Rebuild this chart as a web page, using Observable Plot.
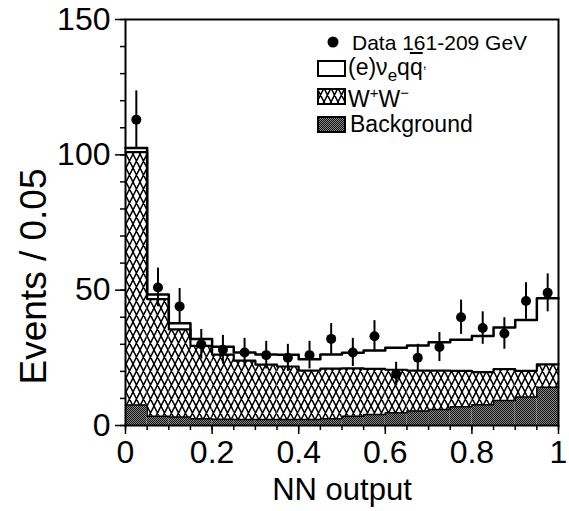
<!DOCTYPE html>
<html><head><meta charset="utf-8">
<script src="https://cdn.jsdelivr.net/npm/d3@7"></script>
<script src="https://cdn.jsdelivr.net/npm/@observablehq/plot@0.6"></script>
<style>
body{margin:0;background:#fff;}
#wrap{position:relative;width:569px;height:511px;font-family:"Liberation Sans",Arial,Helvetica,sans-serif;color:#000;}
.leg{position:absolute;font-size:23px;line-height:1;white-space:nowrap;}
.sw{position:absolute;}
</style></head><body>
<div id="wrap"></div>
<script>
// ---- data ----
const binLow  = [0,0.05,0.10,0.15,0.20,0.25,0.30,0.35,0.40,0.45,0.50,0.55,0.60,0.65,0.70,0.75,0.80,0.85,0.90,0.95];
const binHigh = [0.05,0.10,0.15,0.20,0.25,0.30,0.35,0.40,0.45,0.50,0.55,0.60,0.65,0.70,0.75,0.80,0.85,0.90,0.95,1.00];
const dataCounts = [113,51,44,30,28,27,26,25,26,32,27,33,19,25,29,40,36,34,46,49];
const background = [7.6,3.4,3.1,2.5,2.3,2.2,2.2,2.2,2.2,2.5,3.4,4.1,4.7,5.4,5.9,6.9,7.7,9.2,10.5,14.1];
const wwValues   = [93.4,43.3,32.4,26.9,23.9,21.8,20.3,19.6,18.1,18.5,17.7,16.8,15.9,14.9,14.4,13.3,12.0,11.6,9.7,8.5];
const signal     = [1.5,1.7,2.3,2.6,2.9,3.0,3.7,4.3,4.2,5.2,5.8,6.8,8.1,9.3,10.5,11.5,13.4,15.4,18.8,24.4];
const xTicks = [0,0.2,0.4,0.6,0.8,1];
const xTickLabels = ["0","0.2","0.4","0.6","0.8","1"];
const yTicks = [0,50,100,150];
const yTickLabels = ["0","50","100","150"];
const xMinor = d3.range(0, 1.0001, 0.05);
const yMinor = d3.range(0, 151, 10);

// ---- derived table ----
const rows = binLow.map((lo, i) => {
  const bg = background[i];
  const top = bg + wwValues[i];
  const tot = top + signal[i];
  return {lo, hi: binHigh[i], mid: (lo + binHigh[i]) / 2, bg, top, tot, n: dataCounts[i], err: Math.sqrt(dataCounts[i])};
});
const last = rows[rows.length - 1];
const stepPts = rows.map(r => ({x: r.lo, bg: r.bg, top: r.top, tot: r.tot}))
  .concat([{x: last.hi, bg: last.bg, top: last.top, tot: last.tot}]);

const FS = 32;
const plot = Plot.plot({
  width: 569, height: 511,
  marginLeft: 125, marginRight: 11, marginTop: 19, marginBottom: 86,
  style: {fontFamily: '"Liberation Sans", Arial, Helvetica, sans-serif', background: "#fff", color: "#000"},
  x: {domain: [0, 1], label: null},
  y: {domain: [0, 150], label: null},
  marks: [
    Plot.rect(rows, {x1: "lo", x2: "hi", y1: 0, y2: "bg", fill: "url(#bgdots)"}),
    Plot.rect(rows, {x1: "lo", x2: "hi", y1: "bg", y2: "top", fill: "url(#hatch)"}),
    Plot.line(stepPts, {x: "x", y: "bg", curve: "step-after", stroke: "#000", strokeWidth: 1.5}),
    Plot.line(stepPts, {x: "x", y: "top", curve: "step-after", stroke: "#000", strokeWidth: 2.2}),
    Plot.line(stepPts, {x: "x", y: "tot", curve: "step-after", stroke: "#000", strokeWidth: 2.5}),
    Plot.ruleX(rows, {x: "mid", y1: d => d.n - d.err, y2: d => d.n + d.err, stroke: "#000", strokeWidth: 2}),
    Plot.dot(rows, {x: "mid", y: "n", r: 5, fill: "#000", stroke: "none"}),
    Plot.axisY(yMinor, {tickSize: 5, text: null, strokeWidth: 1.5, label: null}),
    Plot.axisY(yTicks, {tickSize: 10, tickPadding: 5, fontSize: FS, strokeWidth: 1.5, label: null,
      tickFormat: d => yTickLabels[yTicks.indexOf(d)]}),
    Plot.axisX(xMinor, {tickSize: 5, text: null, strokeWidth: 1.5, label: null}),
    Plot.axisX(xTicks, {tickSize: 9, tickPadding: 6, fontSize: FS, strokeWidth: 1.5, label: null,
      tickFormat: d => xTickLabels[xTicks.indexOf(d)]}),
    Plot.frame({stroke: "#000", strokeWidth: 2}),
    Plot.text(["NN output"], {frameAnchor: "bottom", dy: 74, fontSize: 31, text: d => d}),
    Plot.text(["Events / 0.05"], {frameAnchor: "left", textAnchor: "middle", dx: -91, dy: 54, rotate: -90, fontSize: 37, text: d => d})
  ]
});

// patterns
const ns = "http://www.w3.org/2000/svg";
const patternDefs = (p) => `
<pattern id="${p}hatch" patternUnits="userSpaceOnUse" width="7" height="14">
  <rect width="7" height="14" fill="#fff"/>
  <path d="M0,0L7,14M7,0L0,14M-3.5,7L0,14M3.5,-7L7,0M7,14L10.5,21M-3.5,7L0,0M7,14L10.5,7" stroke="#000" stroke-width="1.5"/>
</pattern>
<pattern id="${p}bgdots" patternUnits="userSpaceOnUse" width="2" height="2">
  <rect width="2" height="2" fill="#8a8a8a"/>
  <rect x="0" y="0" width="1" height="1" fill="#111"/>
  <rect x="1" y="1" width="1" height="1" fill="#111"/>
</pattern>`;
const defs = document.createElementNS(ns, "defs");
defs.innerHTML = patternDefs("");
plot.insertBefore(defs, plot.firstChild);

const wrap = document.getElementById("wrap");
wrap.appendChild(plot);

// legend (HTML overlay)
const legendItems = [
  {kind: "dot", html: "Data 161-209 GeV", top: 32, left: 352, fs: 21},
  {kind: "box", fill: "#fff", html: '(e)&nu;<sub style="font-size:17px;vertical-align:-6px">e</sub>q<span style="text-decoration:overline">q</span><span style="font-size:14px;vertical-align:7px">,</span>', top: 56, left: 348, fs: 23},
  {kind: "box", fill: "hatch", html: 'W<sup style="font-size:15px;vertical-align:9px">+</sup>W<sup style="font-size:15px;vertical-align:9px">&minus;</sup>', top: 85, left: 348, fs: 23},
  {kind: "box", fill: "bgdots", html: "Background", top: 113, left: 350, fs: 23}
];
const swTop = [42, 60, 88, 116];
legendItems.forEach((it, i) => {
  const d = document.createElement("div");
  d.className = "leg";
  d.style.top = it.top + "px";
  d.style.left = it.left + "px";
  d.style.fontSize = it.fs + "px";
  d.innerHTML = it.html;
  wrap.appendChild(d);
  const s = document.createElementNS(ns, "svg");
  s.setAttribute("class", "sw");
  if (it.kind === "dot") {
    s.setAttribute("width", 14); s.setAttribute("height", 14);
    s.style.left = "326px"; s.style.top = (swTop[i] - 7) + "px";
    s.innerHTML = '<circle cx="7" cy="7" r="5.5" fill="#000"/>';
  } else {
    const pre = "L" + i;
    const fill = it.fill.startsWith("#") ? it.fill : `url(#${pre}${it.fill})`;
    s.setAttribute("width", 30); s.setAttribute("height", 18);
    s.style.left = "317px"; s.style.top = swTop[i] + "px";
    s.innerHTML = `<defs>${patternDefs(pre)}</defs><rect x="1" y="1" width="27" height="15" fill="${fill}" stroke="#000" stroke-width="2"/>`;
  }
  wrap.appendChild(s);
});
</script>
</body></html>
